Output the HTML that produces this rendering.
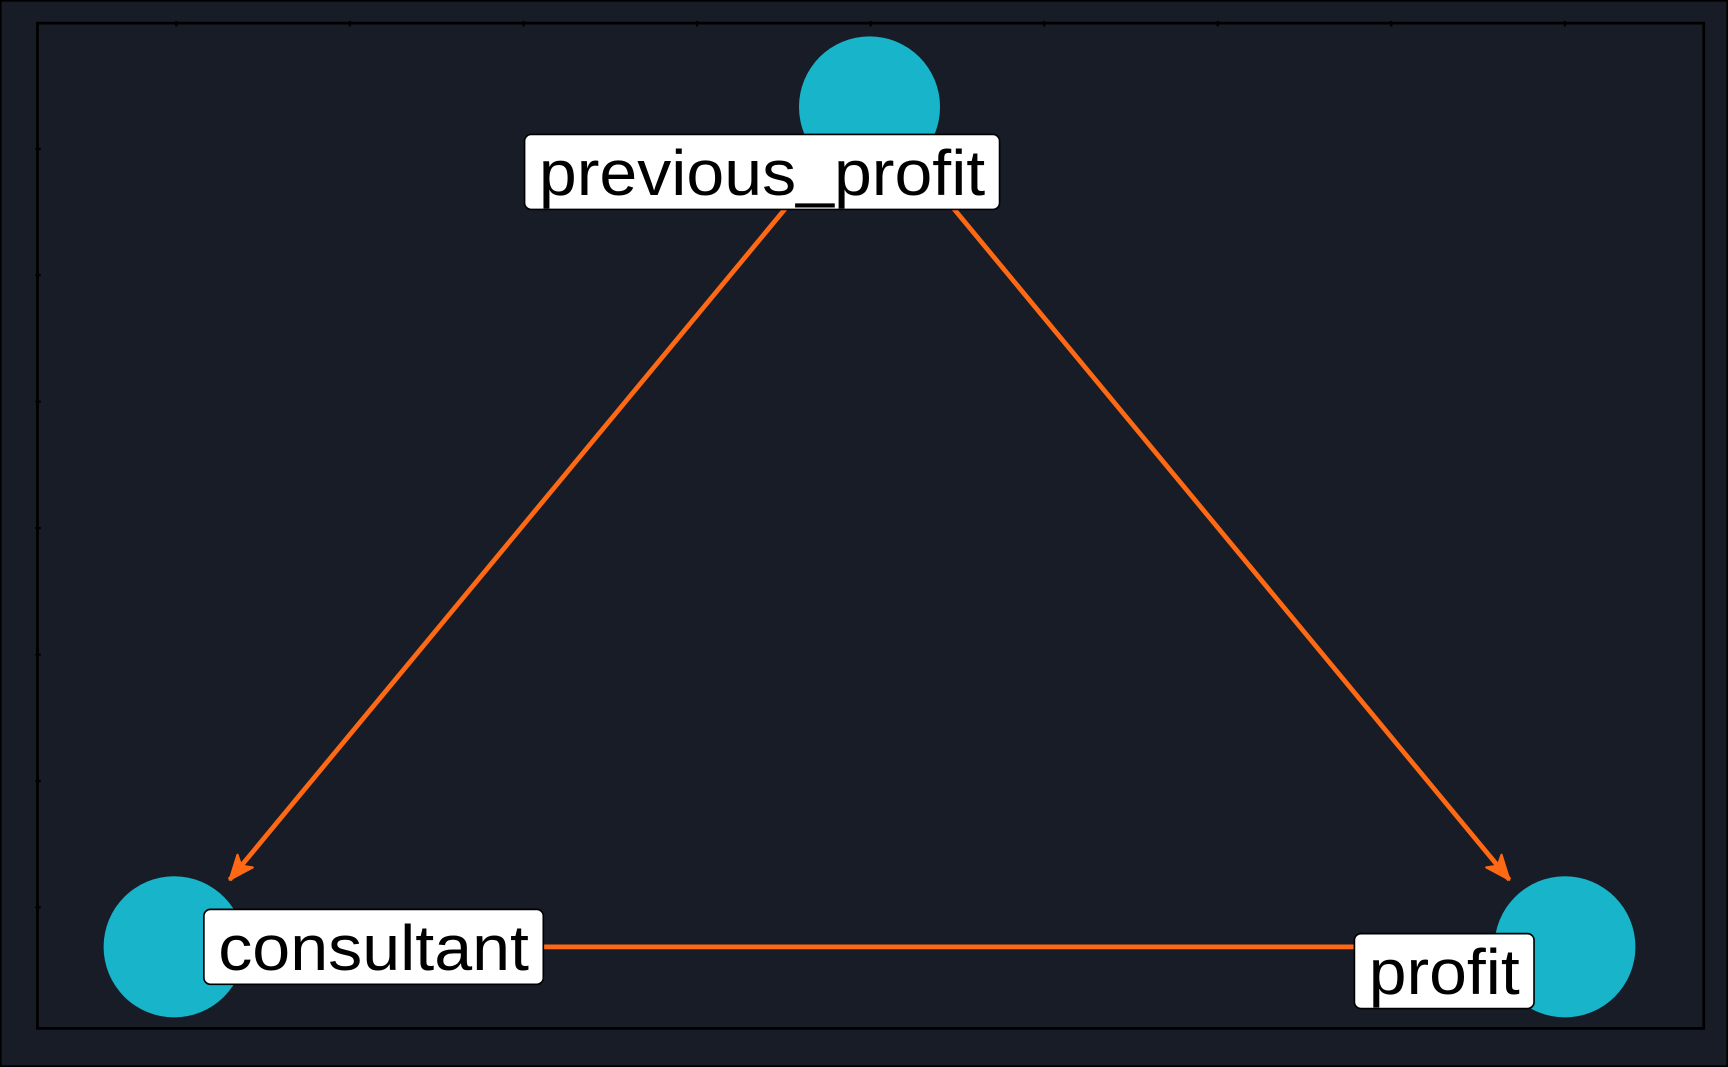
<!DOCTYPE html>
<html><head><meta charset="utf-8"><style>
html,body{margin:0;padding:0;background:#171c27;}
svg{display:block;}
</style></head><body>
<svg width="1728" height="1067" viewBox="0 0 1568 968" preserveAspectRatio="none" font-family="'Liberation Sans', sans-serif">
<rect x="0" y="0" width="1568" height="968" fill="#171c27" stroke="#000" stroke-width="3"/>
<rect x="34" y="21" width="1512" height="912" fill="#171c27" stroke="#000" stroke-width="2.5"/>
<g id="ticks" stroke="#000" stroke-width="2"></g>
<g id="edges"></g>
<g id="nodes"></g>
<g id="labels"></g>
</svg>
<script>
const nodeNames = ["previous_profit", "consultant", "profit"];
const nodeX = [0.5, 0.0, 1.0];
const nodeY = [1.0, 0.0, 0.0];
const edgeFrom = [0, 0, 1];
const edgeTo = [1, 2, 2];
const edgeDirected = [true, true, false];

const NS = "http://www.w3.org/2000/svg";
function sx(v){ return 158 + v * (1420 - 158); }
function sy(v){ return 859 - v * (859 - 97); }
function mk(tag, attrs, parent){
  const e = document.createElementNS(NS, tag);
  for (const k in attrs) e.setAttribute(k, attrs[k]);
  parent.appendChild(e);
  return e;
}
const tickG = document.getElementById('ticks');
for (let i = 0; i < 9; i++) {
  const x = 160 + i * 157.5;
  const t = mk('line', {x1:x, y1:19, x2:x, y2:24}, tickG);
  
  
}
for (let i = 0; i < 7; i++) {
  const y = 135 + i * 114.7;
  const t = mk('line', {x1:32, y1:y, x2:37, y2:y}, tickG);
  
  
}
const R = 64;
const edgeG = document.getElementById('edges');
for (let i = 0; i < edgeFrom.length; i++) {
  const x1 = sx(nodeX[edgeFrom[i]]), y1 = sy(nodeY[edgeFrom[i]]);
  const x2 = sx(nodeX[edgeTo[i]]), y2 = sy(nodeY[edgeTo[i]]);
  const dx = x2 - x1, dy = y2 - y1, L = Math.hypot(dx, dy);
  const ux = dx / L, uy = dy / L;
  const sxp = x1 + ux * R, syp = y1 + uy * R;
  const ex = x2 - ux * (R + 15), ey = y2 - uy * (R + 15);
  const ln = mk('line', {x1:sxp, y1:syp, x2:ex, y2:ey, stroke:'#ff6914', 'stroke-width':4.3}, edgeG);
  
  
  if (edgeDirected[i]) {
    const px = -uy, py = ux, h = 22, w = 9;
    const pts = [[ex, ey], [ex - ux*h + px*w, ey - uy*h + py*w], [ex - ux*h*0.75, ey - uy*h*0.75], [ex - ux*h - px*w, ey - uy*h - py*w]];
    const ar = mk('polygon', {points: pts.map(p => p.join(',')).join(' '), fill:'#ff6914', stroke:'#ff6914', 'stroke-width':2, 'stroke-linejoin':'round'}, edgeG);
    
    
  }
}
const nodeG = document.getElementById('nodes');
for (let i = 0; i < nodeNames.length; i++) {
  const c = mk('circle', {cx:sx(nodeX[i]), cy:sy(nodeY[i]), r:R, fill:'#17b4ca'}, nodeG);
  
  
}
const labOff = [[-313, 25, 431, 68], [27, -34, 308, 68], [-191, -12, 163, 68]];
const labG = document.getElementById('labels');
for (let i = 0; i < nodeNames.length; i++) {
  const bx = sx(nodeX[i]) + labOff[i][0], by = sy(nodeY[i]) + labOff[i][1];
  const rc = mk('rect', {x:bx, y:by, width:labOff[i][2], height:labOff[i][3], rx:6, fill:'#fff', stroke:'#000', 'stroke-width':1.5}, labG);
  
  
  const tx = mk('text', {x:bx + labOff[i][2]/2, y:by + 55, 'font-size':58, 'text-anchor':'middle', fill:'#000', textLength:labOff[i][2] - 26, lengthAdjust:'spacingAndGlyphs'}, labG);
  tx.textContent = nodeNames[i];
  
  
}
</script>
</body></html>
